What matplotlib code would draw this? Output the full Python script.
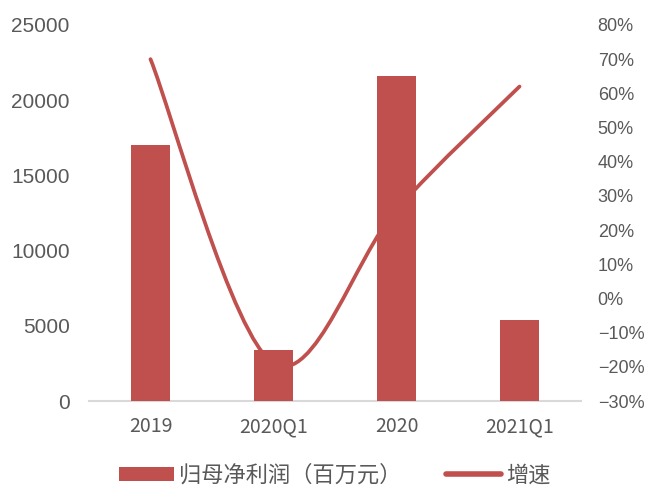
import matplotlib
matplotlib.use("Agg")
import matplotlib.pyplot as plt
from matplotlib.path import Path
from matplotlib.patches import PathPatch, Patch
from matplotlib.lines import Line2D
from matplotlib.ticker import FuncFormatter, MultipleLocator

plt.rcParams['font.family'] = ['Noto Sans CJK SC', 'DejaVu Sans']

categories = ['2019', '2020Q1', '2020', '2021Q1']
profit = [17000, 3400, 21600, 5400]      # 归母净利润（百万元）
growth = [70, -19, 26, 62]               # 增速 (%)

red = '#C0504D'
grey_text = '#595959'


def smooth_path(xs, ys):
    '''
    Build a smoothed bezier path through the points (Catmull-Rom style)
    '''
    pts = list(zip(xs, ys))
    n = len(pts)
    verts = [pts[0]]
    codes = [Path.MOVETO]
    for i in range(n - 1):
        p0 = pts[i - 1] if i > 0 else pts[i]
        p1 = pts[i]
        p2 = pts[i + 1]
        p3 = pts[i + 2] if i + 2 < n else pts[i + 1]
        c1 = (p1[0] + (p2[0] - p0[0]) / 6, p1[1] + (p2[1] - p0[1]) / 6)
        c2 = (p2[0] - (p3[0] - p1[0]) / 6, p2[1] - (p3[1] - p1[1]) / 6)
        verts += [c1, c2, p2]
        codes += [Path.CURVE4] * 3
    return Path(verts, codes)


fig = plt.figure(figsize=(6.49, 4.86), dpi=100)
ax = fig.add_axes([89 / 649, 85 / 486, 492 / 649, 376 / 486])
ax2 = ax.twinx()

# bars sit in front of the growth line
ax2.set_zorder(ax.get_zorder() - 1)
ax.patch.set_visible(False)

x = list(range(len(categories)))
ax.bar(x, profit, width=0.32, color=red, zorder=3)
ax.set_xlim(-0.5, 3.5)
ax.set_ylim(0, 25000)
ax.yaxis.set_major_locator(MultipleLocator(5000))
ax.set_xticks(x)
ax.set_xticklabels(categories, fontsize=14, color=grey_text)
ax.tick_params(axis='y', length=0, pad=14, labelsize=15, labelcolor=grey_text)
ax.tick_params(axis='x', length=0, pad=11)
for lab in ax.get_yticklabels():
    lab.set_family('Liberation Sans')

for side in ['top', 'left', 'right']:
    ax.spines[side].set_visible(False)
ax.spines['bottom'].set_color('#D9D9D9')
ax.spines['bottom'].set_linewidth(1.5)

ax2.add_patch(PathPatch(smooth_path(x, growth), facecolor='none', edgecolor=red,
                        linewidth=2.7, capstyle='round'))
ax2.set_ylim(-30, 80)
ax2.yaxis.set_major_locator(MultipleLocator(10))
ax2.yaxis.set_major_formatter(FuncFormatter(lambda v, p: f'{v:.0f}%'.replace('-', '\u2212')))
ax2.tick_params(axis='y', length=0, pad=12, labelsize=13, labelcolor=grey_text)
for lab in ax2.get_yticklabels():
    lab.set_family('Liberation Sans')
for side in ax2.spines:
    ax2.spines[side].set_visible(False)

handles = [Patch(facecolor=red, edgecolor='none'),
           Line2D([], [], color=red, linewidth=4, solid_capstyle='round')]
fig.legend(handles, ['归母净利润（百万元）', '增速'], loc='center',
           bbox_to_anchor=(335 / 649, 1 - 475 / 486), ncol=2, frameon=False,
           fontsize=16, labelcolor=grey_text, handlelength=2.45, handleheight=0.6,
           columnspacing=2.0, handletextpad=0.25)

fig.savefig('out.png', dpi=100)
